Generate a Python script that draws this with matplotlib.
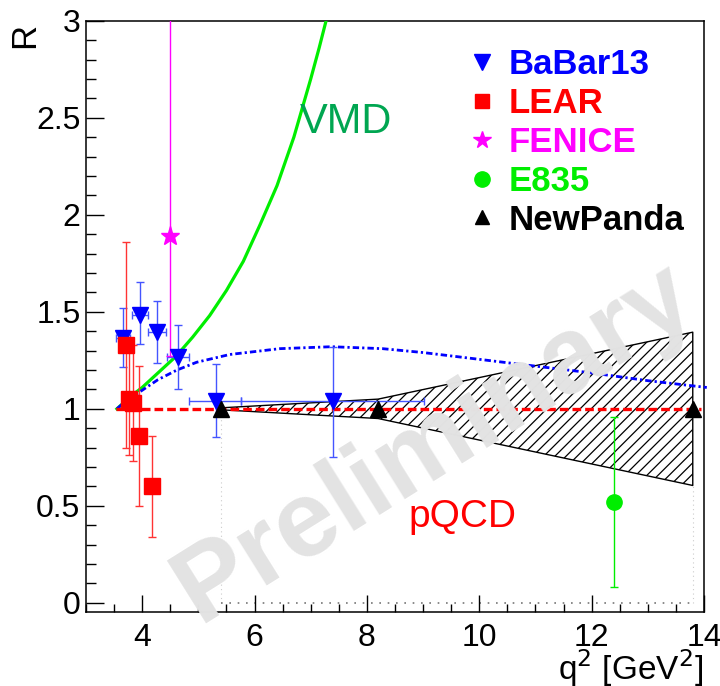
import matplotlib
matplotlib.use("Agg")
import matplotlib.pyplot as plt
from matplotlib.lines import Line2D
from matplotlib.ticker import MultipleLocator

plt.rcParams['font.family'] = ['Liberation Sans', 'DejaVu Sans']
plt.rcParams['hatch.linewidth'] = 0.9

# BaBar 2013
babar_q2 = [3.66, 3.96, 4.27, 4.64, 5.31, 7.40]
babar_R = [1.365, 1.485, 1.397, 1.268, 1.04, 1.04]
babar_R_lo = [0.15, 0.15, 0.16, 0.165, 0.185, 0.29]
babar_R_hi = [0.155, 0.17, 0.16, 0.165, 0.19, 0.28]
babar_q2_lo = [0.12, 0.14, 0.16, 0.20, 0.48, 1.65]
babar_q2_hi = [0.12, 0.14, 0.16, 0.20, 0.44, 1.62]

# LEAR
lear_q2 = [3.71, 3.76, 3.83, 3.95, 4.17]
lear_R = [1.33, 1.05, 1.03, 0.86, 0.60]
lear_R_err = [0.53, 0.29, 0.30, 0.36, 0.26]

# FENICE
fenice_q2 = [4.50]
fenice_R = [1.89]
fenice_R_lo = [0.62]
fenice_R_hi = [1.20]

# E835
e835_q2 = [12.4]
e835_R = [0.52]
e835_R_err = [0.44]

# PANDA projection
panda_q2 = [5.4, 8.2, 13.8]
panda_R = [1.0, 1.0, 1.0]
panda_R_err = [0.005, 0.05, 0.395]

# model curves
vmd_q2 = [3.55, 3.8, 4.0, 4.3, 4.6, 4.9, 5.2, 5.5, 5.8, 6.1, 6.4, 6.7, 7.0,
          7.15, 7.3]
vmd_R = [1.00, 1.065, 1.11, 1.19, 1.27, 1.37, 1.48, 1.61, 1.76, 1.95, 2.15,
         2.40, 2.70, 2.86, 3.03]
fit_q2 = [3.55, 3.75, 3.92, 4.28, 4.62, 4.97, 5.56, 6.45, 7.37, 8.28, 9.0, 10.0,
          11.0, 12.0, 13.0, 14.05]
fit_R = [1.0, 1.05, 1.08, 1.15, 1.20, 1.24, 1.28, 1.31, 1.32, 1.31, 1.29, 1.255,
         1.22, 1.185, 1.145, 1.11]
pqcd_q2 = [3.53, 13.94]
pqcd_R = [1.0, 1.0]

W, H = 720, 686


def fx(px):
    return px / W


def fy(py):
    return 1 - py / H


fig = plt.figure(figsize=(W / 100, H / 100), dpi=100)
ax = fig.add_axes([fx(86), fy(612), (704 - 86) / W, (612 - 20.7) / H])
ax.set_xlim(3, 14)
ax.set_ylim(-0.047, 3.0)

# hatched band for the projected uncertainty
lo = [r - e for r, e in zip(panda_R, panda_R_err)]
hi = [r + e for r, e in zip(panda_R, panda_R_err)]
ax.fill_between(panda_q2, lo, hi, facecolor='none', edgecolor='black',
                hatch='///', linewidth=1.0, zorder=1)
# faint dotted outline down to zero
ax.plot([panda_q2[0], panda_q2[0]], [0, lo[0]], color='#cccccc', lw=0.8,
        ls=(0, (1, 3)), zorder=1)
ax.plot([panda_q2[-1], panda_q2[-1]], [0, lo[-1]], color='#cccccc', lw=0.8,
        ls=(0, (1, 3)), zorder=1)
ax.plot([panda_q2[0], panda_q2[-1]], [0, 0], color='#777777', lw=1.2,
        ls=(0, (1, 4)), zorder=1)

fig.text(fx(435), fy(443), 'Preliminary', fontsize=78,
         fontweight='bold', color='#e3e3e3', rotation=32,
         ha='center', va='center', zorder=1.5)

# curves
ax.plot(vmd_q2, vmd_R, color='#00ee00', lw=2.3, zorder=3)
ax.plot(fit_q2, fit_R, color='#0000ff', lw=2.0, ls=(0, (2.3, 1.1, 0.8, 1.1)),
        zorder=3, clip_on=False)
ax.plot(pqcd_q2, pqcd_R, color='#ff0000', lw=2.4, ls=(0, (2.6, 1.2)), zorder=3)

ekw = dict(capsize=3, elinewidth=1, capthick=1, linestyle='none', zorder=4)
ax.errorbar(babar_q2, babar_R, yerr=[babar_R_lo, babar_R_hi],
            xerr=[babar_q2_lo, babar_q2_hi], fmt='v', color='#0000ff',
            ecolor='#4455ff', ms=12, **ekw)
ax.errorbar(lear_q2, lear_R, yerr=lear_R_err, fmt='s', color='#ff0000',
            ecolor='#ff3333', ms=11, **ekw)
ax.errorbar(fenice_q2, fenice_R, yerr=[fenice_R_lo, fenice_R_hi], fmt='*',
            color='#ff00ff', ms=14, **ekw)
ax.errorbar(e835_q2, e835_R, yerr=e835_R_err, fmt='o', color='#00ee00',
            ms=11, **ekw)
ax.plot(panda_q2, panda_R, '^', color='black', ms=11, zorder=5)

fig.text(fx(300), fy(122), 'VMD', fontsize=30, color='#00a651',
         ha='left', va='center')
fig.text(fx(408), fy(517), 'pQCD', fontsize=28, color='#ff0000',
         ha='left', va='center')

# legend
handles = [
    Line2D([], [], marker='v', color='#0000ff', ls='none', ms=11),
    Line2D([], [], marker='s', color='#ff0000', ls='none', ms=10),
    Line2D([], [], marker='*', color='#ff00ff', ls='none', ms=13),
    Line2D([], [], marker='o', color='#00ee00', ls='none', ms=11),
    Line2D([], [], marker='^', color='black', ls='none', ms=10),
]
names = ['BaBar13', 'LEAR', 'FENICE', 'E835', 'NewPanda']
ax.legend(handles, names, loc='upper left', bbox_to_anchor=(fx(465), fy(48)),
          bbox_transform=fig.transFigure, frameon=False,
          prop=dict(size=25, weight='bold'), labelcolor='markerfacecolor',
          handlelength=1.0, handletextpad=0.25, labelspacing=0.17,
          borderaxespad=0, borderpad=0)

# ROOT-like axes
ax.xaxis.set_major_locator(MultipleLocator(2))
ax.xaxis.set_minor_locator(MultipleLocator(0.5))
ax.yaxis.set_major_locator(MultipleLocator(0.5))
ax.yaxis.set_minor_locator(MultipleLocator(0.1))
ax.yaxis.set_major_formatter(plt.FuncFormatter(lambda v, p: f'{v:g}'))
ax.tick_params(axis='both', which='both', direction='in', top=False,
               right=False, width=1, labelsize=23)
ax.tick_params(axis='x', which='major', length=12, pad=8)
ax.tick_params(axis='x', which='minor', length=6)
ax.tick_params(axis='y', which='major', length=13, pad=4)
ax.tick_params(axis='y', which='minor', length=7)
for s in ax.spines.values():
    s.set_linewidth(1.1)

fig.text(fx(703), fy(680), r'q$^{2}$ [GeV$^{2}$]', fontsize=24,
         ha='right', va='baseline')
fig.text(fx(25), fy(35), 'R', fontsize=25, rotation=90,
         ha='center', va='center')

fig.savefig('out.png', dpi=100)
